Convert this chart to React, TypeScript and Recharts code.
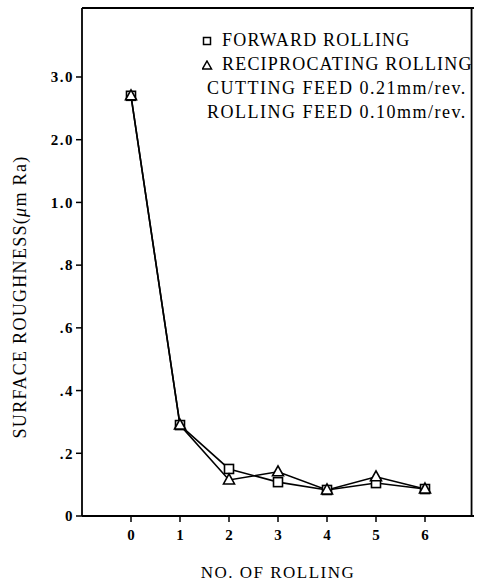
import React from "react";
import { LineChart, Line, XAxis, YAxis, ReferenceLine } from "recharts";

// ---- data ----
const rollingCounts = [0, 1, 2, 3, 4, 5, 6];
const forwardRa = [2.7, 0.29, 0.15, 0.108, 0.083, 0.105, 0.086];
const reciprocatingRa = [2.7, 0.29, 0.115, 0.141, 0.083, 0.125, 0.086];
const yTickValues = [0, 0.2, 0.4, 0.6, 0.8, 1.0, 2.0, 3.0];
const yTickLabels = ["0", ".2", ".4", ".6", ".8", "1.0", "2.0", "3.0"];
const xTickValues = [0, 1, 2, 3, 4, 5, 6];
const seriesNames = ["FORWARD ROLLING", "RECIPROCATING ROLLING"];
const noteLines = ["CUTTING FEED 0.21mm/rev.", "ROLLING FEED 0.10mm/rev."];
const xTitle = "NO. OF ROLLING";

// broken y scale: 0..1.0 in steps of .2, then 1.0..3.0 in steps of 1.0 (same spacing)
const toAxis = (v: number) => (v <= 1 ? v / 0.2 : 5 + (v - 1));
const Y_MAX = 8.1;
const X_DOMAIN: [number, number] = [-0.95, 6.95];

const data = rollingCounts.map((n, i) => ({
  n,
  forward: toAxis(forwardRa[i]),
  recip: toAxis(reciprocatingRa[i]),
}));
const yTicks = yTickValues.map(toAxis);

const FONT = '"Liberation Serif", "Times New Roman", Times, "DejaVu Serif", serif';

const SquareDot = (props: any) => {
  const { cx, cy, index } = props;
  if (cx == null || cy == null) return null;
  return (
    <rect key={`s${index}`} x={cx - 4.5} y={cy - 4.5} width={9} height={9} fill="#fff" stroke="#000" strokeWidth={1.6} />
  );
};
const TriangleDot = (props: any) => {
  const { cx, cy, index } = props;
  if (cx == null || cy == null) return null;
  return (
    <path
      key={`t${index}`}
      d={`M${cx},${cy - 6} L${cx + 5.5},${cy + 4} L${cx - 5.5},${cy + 4} Z`}
      fill="#fff"
      stroke="#000"
      strokeWidth={1.6}
    />
  );
};

const YTitle = () => {
  const cx = 20;
  const cy = 297;
  return (
    <text
      x={cx}
      y={cy}
      transform={`rotate(-90 ${cx} ${cy})`}
      textAnchor="middle"
      dominantBaseline="central"
      style={{ fontFamily: FONT, fontSize: 18, letterSpacing: 1.3 }}
      fill="#000"
    >
      SURFACE ROUGHNESS(<tspan fontStyle="italic">μ</tspan>m Ra)
    </text>
  );
};

const XTitle = (props: any) => {
  const vb = props.viewBox || {};
  const cx = (vb.x ?? 82) + (vb.width ?? 392) / 2;
  return (
    <text x={cx} y={578} textAnchor="middle" style={{ fontFamily: FONT, fontSize: 17, letterSpacing: 1.5 }} fill="#000">
      {xTitle}
    </text>
  );
};

const tickStyle = { fill: "#000", fontFamily: FONT, fontSize: 15, fontWeight: "bold" as const };

export default function App() {
  return (
    <div style={{ position: "absolute", left: 0, top: 0, width: 479, height: 582, background: "#fff", fontFamily: FONT }}>
      <LineChart width={479} height={582} data={data} margin={{ top: 8, right: 5, bottom: 26, left: 0 }} style={{ fontFamily: FONT }}>
        <XAxis
          dataKey="n"
          type="number"
          domain={X_DOMAIN}
          ticks={xTickValues}
          allowDecimals={false}
          height={40}
          axisLine={{ stroke: "#000", strokeWidth: 1.8 }}
          tickLine={{ stroke: "#000", strokeWidth: 1.5 }}
          tickSize={6}
          tickMargin={7}
          tick={tickStyle}
          label={<XTitle />}
        />
        <YAxis
          type="number"
          domain={[0, Y_MAX]}
          ticks={yTicks}
          width={82}
          axisLine={{ stroke: "#000", strokeWidth: 1.8 }}
          tickLine={{ stroke: "#000", strokeWidth: 1.5 }}
          tickSize={6}
          tickMargin={2}
          tickFormatter={(t: number) => {
            const i = yTicks.findIndex((v) => Math.abs(v - t) < 1e-6);
            return i >= 0 ? yTickLabels[i] : "";
          }}
          tick={{ ...tickStyle, letterSpacing: 1.5 }}
          label={<YTitle />}
        />
        <ReferenceLine y={Y_MAX} stroke="#000" strokeWidth={1.8} />
        <ReferenceLine x={X_DOMAIN[1]} stroke="#000" strokeWidth={1.8} />
        <Line
          dataKey="forward"
          name={seriesNames[0]}
          stroke="#000"
          strokeWidth={1.6}
          dot={<SquareDot />}
          isAnimationActive={false}
        />
        <Line
          dataKey="recip"
          name={seriesNames[1]}
          stroke="#000"
          strokeWidth={1.6}
          dot={<TriangleDot />}
          isAnimationActive={false}
        />
      </LineChart>
      <div
        style={{
          position: "absolute",
          left: 202,
          top: 28,
          fontFamily: FONT,
          fontSize: 18,
          letterSpacing: 1.2,
          lineHeight: "24px",
          color: "#000",
          whiteSpace: "nowrap",
        }}
      >
        <div>
          <svg width={12} height={10} style={{ marginRight: 8 }}>
            <rect x={1.5} y={1.5} width={7} height={7} fill="#fff" stroke="#000" strokeWidth={1.5} />
          </svg>
          {seriesNames[0]}
        </div>
        <div>
          <svg width={12} height={10} style={{ marginRight: 8 }}>
            <path d="M5,1 L9.5,9 L0.5,9 Z" fill="#fff" stroke="#000" strokeWidth={1.5} />
          </svg>
          {seriesNames[1]}
        </div>
        <div style={{ paddingLeft: 5, letterSpacing: 1.5 }}>{noteLines[0]}</div>
        <div style={{ paddingLeft: 5, letterSpacing: 1.5 }}>{noteLines[1]}</div>
      </div>
    </div>
  );
}
